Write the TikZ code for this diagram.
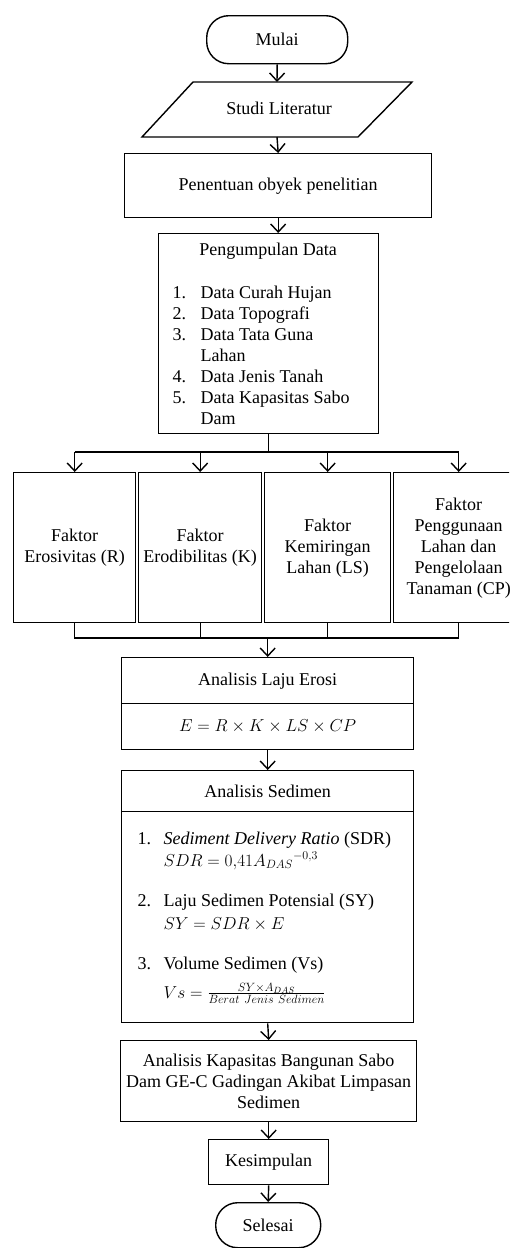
\documentclass[tikz,border=0pt]{standalone}
\usepackage{fontspec}
\setmainfont{Liberation Serif}
\usetikzlibrary{arrows.meta}
\begin{document}
\begin{tikzpicture}[x=1pt,y=-1pt,line width=1.4pt,
  every node/.style={font=\fontsize{18}{21}\selectfont},
  box/.style={draw,rectangle,inner sep=0pt,align=center,anchor=north west},
  term/.style={draw,rectangle,rounded corners=22pt,inner sep=0pt,anchor=north west},
  arr/.style={-{Straight Barb[length=8pt,width=15pt]}},
  lbl/.style={anchor=base west,inner sep=0pt}]
\clip (0,0) rectangle (509,1248);
% top part
\node[term,minimum width=141pt,minimum height=48pt] (mulai) at (206,15) {Mulai};
\coordinate (stTop) at (277,82);
\coordinate (stBot) at (277,137);
\draw (193,82) -- (412,82) -- (358,137) -- (142,137) -- cycle;
\node (studi) at (279,108) {Studi Literatur};
\node[box,minimum width=307pt,minimum height=64pt] (pen) at (124,153) {Penentuan obyek penelitian};
\node[box,minimum width=220pt,minimum height=200pt] (peng) at (158,233) {};
\node[anchor=base,inner sep=0pt] (pengT) at (268,255) {Pengumpulan Data};
\node[lbl] (n1) at (172,298) {1.};
\node[lbl] (i1) at (200,298) {Data Curah Hujan};
\node[lbl] (n2) at (172,319) {2.};
\node[lbl] (i2) at (200,319) {Data Topografi};
\node[lbl] (n3) at (172,340) {3.};
\node[lbl] (i3) at (200,340) {Data Tata Guna};
\node[lbl] (i3b) at (200,361) {Lahan};
\node[lbl] (n4) at (172,382) {4.};
\node[lbl] (i4) at (200,382) {Data Jenis Tanah};
\node[lbl] (n5) at (172,403) {5.};
\node[lbl] (i5) at (200,403) {Data Kapasitas Sabo};
\node[lbl] (i5b) at (200,424) {Dam};
\draw[arr] (mulai.south) -- (stTop);
\draw[arr] (stBot) -- (pen.north);
\draw[arr] (pen.south) -- (pen.south |- peng.north);
% factors
\node[box,minimum width=122pt,minimum height=150pt] (f1) at (13,472) {Faktor\\Erosivitas (R)};
\node[box,minimum width=123pt,minimum height=150pt] (f2) at (138,472) {Faktor\\Erodibilitas (K)};
\node[box,minimum width=126pt,minimum height=150pt] (f3) at (264,472) {Faktor\\Kemiringan\\Lahan (LS)};
\node[box,minimum width=130pt,minimum height=150pt] (f4) at (393,472) {Faktor\\Penggunaan\\Lahan dan\\Pengelolaan\\Tanaman (CP)};
\coordinate (br) at (266,452);
\draw (peng.south) -- (peng.south |- br);
\draw (f1.north |- br) -- (f4.north |- br);
\foreach \f in {f1,f2,f3,f4} {\draw[arr] (\f.north |- br) -- (\f.north);}
\coordinate (jn) at (266,638);
\draw (f1.south) -- (f1.south |- jn) -- (f4.south |- jn) -- (f4.south);
\draw (f2.south) -- (f2.south |- jn);
\draw (f3.south) -- (f3.south |- jn);
% erosion
\node[box,minimum width=292pt,minimum height=46pt] (lajuA) at (121,657) {Analisis Laju Erosi};
\node[box,minimum width=292pt,minimum height=46pt] (lajuB) at (121,703) {$E = R\times K\times LS\times CP$};
\draw[arr] (lajuA.north |- jn) -- (lajuA.north);
% sediment
\node[box,minimum width=292pt,minimum height=41pt] (sedA) at (121,770) {Analisis Sedimen};
\node[box,minimum width=292pt,minimum height=211pt] (sedB) at (121,811) {};
\draw[arr] (lajuB.south) -- (sedA.north);
\node[lbl] (s1) at (137,844) {1.};
\node[lbl] (s1a) at (163,844) {\textit{Sediment Delivery Ratio} (SDR)};
\node[lbl] (s1b) at (163,866) {$SDR = 0{,}41A_{DAS}{}^{-0{,}3}$};
\node[lbl] (s2) at (137,906) {2.};
\node[lbl] (s2a) at (163,906) {Laju Sedimen Potensial (SY)};
\node[lbl] (s2b) at (163,929) {$SY = SDR\times E$};
\node[lbl] (s3) at (137,969) {3.};
\node[lbl] (s3a) at (163,969) {Volume Sedimen (Vs)};
\node[lbl] (s3b) at (163,998) {$Vs = \frac{SY\times A_{DAS}}{Berat\ Jenis\ Sedimen}$};
% capacity
\node[box,minimum width=296pt,minimum height=81pt] (kap) at (120,1040) {Analisis Kapasitas Bangunan Sabo\\Dam GE-C Gadingan Akibat Limpasan\\Sedimen};
\draw[arr] (sedB.south) -- (kap.north);
\node[box,minimum width=120pt,minimum height=45pt] (kes) at (208,1139) {Kesimpulan};
\draw[arr] (kap.south) -- (kes.north);
\node[term,minimum width=105pt,minimum height=45pt] (sel) at (215,1202) {Selesai};
\draw[arr] (kes.south) -- (sel.north);
\end{tikzpicture}
\end{document}
